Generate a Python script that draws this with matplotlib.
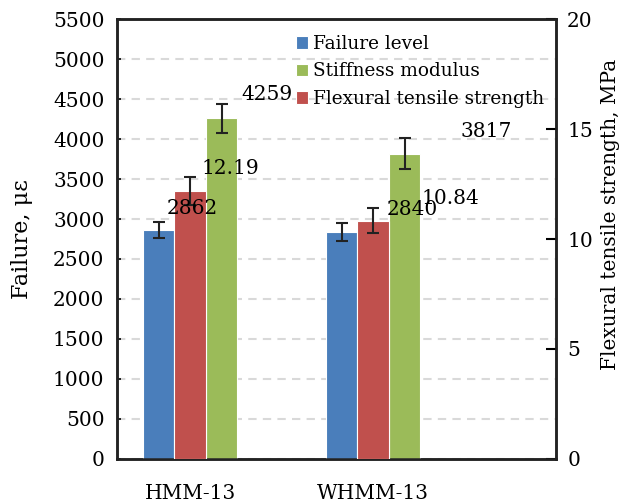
import matplotlib
matplotlib.use("Agg")
import matplotlib.pyplot as plt
import numpy as np

plt.rcParams['font.family'] = ['DejaVu Serif']

# mixtures and measured values
mixes = ['HMM-13', 'WHMM-13']
failure = [2862, 2840]            # με
failure_err = [100, 110]
stiffness = [4259, 3817]          # MPa, drawn on left axis
stiffness_err = [180, 190]
flex = [12.19, 10.84]             # MPa, right axis
flex_err = [0.64, 0.57]

blue = '#4a7ebb'
red = '#c0504d'
green = '#9bbb59'

fig = plt.figure(figsize=(6.27, 5.03), dpi=100)
ax = fig.add_axes([0.1866, 0.0875, 0.7002, 0.8747])
ax2 = ax.twinx()

x = np.arange(len(mixes))
w = 0.172
ekw = dict(ecolor='#222222', elinewidth=1.5, capsize=4, capthick=1.5)

b1 = ax.bar(x - w, failure, w, color=blue, edgecolor='white', linewidth=0.8,
            yerr=failure_err, error_kw=ekw, label='Failure level', zorder=3)
b3 = ax.bar(x + w, stiffness, w, color=green, edgecolor='white', linewidth=0.8,
            yerr=stiffness_err, error_kw=ekw, label='Stiffness modulus', zorder=3)
b2 = ax2.bar(x, flex, w, color=red, edgecolor='white', linewidth=0.8,
             yerr=flex_err, error_kw=ekw, label='Flexural tensile strength', zorder=3)

ax.set_xlim(-0.4, 2.0)
ax.set_ylim(0, 5500)
ax.set_yticks(np.arange(0, 5501, 500))
ax2.set_ylim(0, 20)
ax2.set_yticks([0, 5, 10, 15, 20])

ax.yaxis.grid(True, color='#d9d9d9', linestyle=(0, (4, 3)), linewidth=1.5)
ax.set_axisbelow(True)
ax.set_xticks(x)
ax.set_xticklabels(mixes)

for a in (ax, ax2):
    for s in a.spines.values():
        s.set_linewidth(1.8)
        s.set_color('#222222')
ax.tick_params(axis='x', length=0, pad=18, labelsize=14.5)
ax.tick_params(axis='y', direction='in', length=3, width=1.2, pad=9, labelsize=14.5)
ax2.tick_params(axis='y', direction='in', length=7, width=1.5, pad=8, labelsize=14.5)

ax.set_ylabel('Failure, με', fontsize=16)
ax.yaxis.set_label_coords(-0.191, 0.5)
ax2.set_ylabel('Flexural tensile strength, MPa', fontsize=14.5)
ax2.yaxis.set_label_coords(1.1025, 0.557)

# value labels above error bars, drawn on the top axes (offsets in points)
def put_labels(src, xs, vals, errs, texts, dxs, dys):
    for i in range(len(xs)):
        ax2.annotate(texts[i], (xs[i], vals[i] + errs[i]), xycoords=src.transData,
                     xytext=(dxs[i], dys[i]), textcoords='offset points',
                     ha='center', va='baseline', fontsize=14.5, zorder=5)

put_labels(ax, x - w, failure, failure_err, [str(v) for v in failure], [24, 51], [6, 6])
put_labels(ax2, x, flex, flex_err, ['%.2f' % v for v in flex], [29, 56], [2, 3])
put_labels(ax, x + w, stiffness, stiffness_err, [str(v) for v in stiffness], [33, 59], [3, 1])

ax.legend([b1, b3, b2], ['Failure level', 'Stiffness modulus', 'Flexural tensile strength'],
          loc='upper right', bbox_to_anchor=(0.995, 0.985), frameon=False,
          fontsize=13.3, handlelength=0.65, handleheight=0.65, handletextpad=0.3,
          labelspacing=0.52, borderaxespad=0.1)

fig.savefig('out.png', dpi=100)
